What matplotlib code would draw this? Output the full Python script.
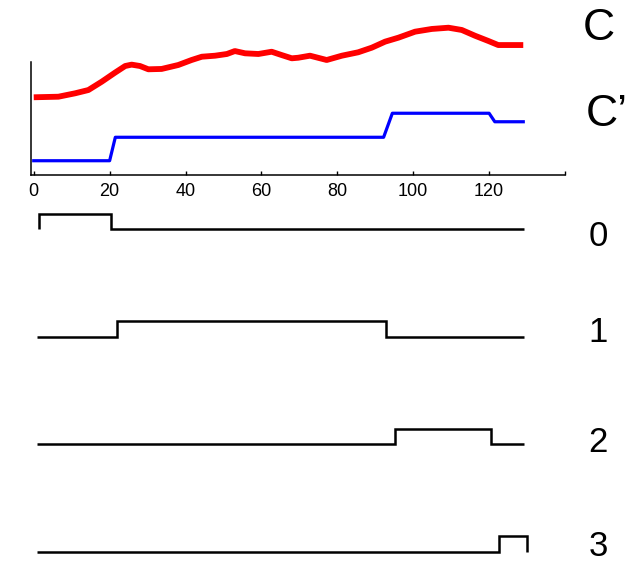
import numpy as np
import matplotlib
matplotlib.use("Agg")
import matplotlib.pyplot as plt

plt.rcParams['font.family'] = ['Liberation Sans', 'DejaVu Sans']

# ---- data ----
# observed sequence C (red)
c_time = [0, 6.5, 10.9, 14.4, 17.9, 21.4, 24.1, 25.8, 28, 30.2, 33.7, 38.1,
          41.6, 44.3, 47.8, 50.9, 53, 55.7, 59.2, 62.7, 65.3, 68, 69.7, 72.8,
          77.2, 81.2, 85.5, 89.1, 92.6, 96.1, 100.5, 104.9, 109.3, 112.8,
          116.3, 119.8, 122.4, 125.9, 129]
c_value = [6.86, 6.91, 7.21, 7.50, 8.23, 9.03, 9.62, 9.74, 9.62, 9.33, 9.36,
           9.71, 10.15, 10.44, 10.53, 10.68, 10.94, 10.74, 10.68, 10.88, 10.59,
           10.30, 10.35, 10.53, 10.15, 10.53, 10.83, 11.24, 11.77, 12.12, 12.65,
           12.89, 13.00, 12.80, 12.29, 11.83, 11.47, 11.47, 11.47]

# piecewise-constant approximation C' (blue)
cp_time = [0, 20, 21.5, 92.2, 94.5, 120, 121.5, 129]
cp_value = [1.26, 1.26, 3.33, 3.33, 5.45, 5.45, 4.70, 4.70]

# state indicator rows: (on start, on end), full span of each row
row_labels = ['0', '1', '2', '3']
row_on = [(1.5, 20.4), (22.0, 92.8), (95.3, 120.5), (122.7, 130.0)]
row_span = [(1.5, 129.3), (0.9, 129.3), (0.9, 129.3), (0.9, 130.0)]

x_ticks = [0, 20, 40, 60, 80, 100, 120, 140]
x_ticklabels = ['0', '20', '40', '60', '80', '100', '120', '']

# ---- figure ----
W, H = 638, 567
fig = plt.figure(figsize=(W / 100, H / 100), dpi=100)

left_px, right_px = 30.7, 565.0
ax = fig.add_axes([left_px / W, (H - 175) / H, (right_px - left_px) / W, (175 - 61.7) / H])
ax.plot(c_time, c_value, color='#ff0000', lw=4.2, clip_on=False,
        solid_joinstyle='round', solid_capstyle='butt')
ax.plot(cp_time, cp_value, color='#0000ff', lw=2.3, clip_on=False)
ax.set_xlim(-0.8, 140)
ax.set_ylim(0, 10)
for s in ['top', 'right']:
    ax.spines[s].set_visible(False)
for s in ['left', 'bottom']:
    ax.spines[s].set_linewidth(1.1)
ax.set_yticks([])
ax.set_xticks(x_ticks)
ax.set_xticklabels(x_ticklabels)
ax.tick_params(axis='x', direction='in', length=3, width=1, labelsize=13, pad=6)

# bottom: state indicator rows
p = 15.3  # pixels per unit
gap = 7.03
axb = fig.add_axes([left_px / W, 0, (right_px - left_px) / W, (567 - 200) / H])
axb.set_xlim(-0.8, 140)
axb.set_ylim(-(567 - 229) / p, (229 - 200) / p)
axb.axis('off')
for i, ((a, b), (s0, s1)) in enumerate(zip(row_on, row_span)):
    base = -i * gap
    edges, vals = [], []
    if a > s0:
        edges += [s0, a]
        vals += [0]
    else:
        edges += [a]
    edges += [b]
    vals += [1]
    if s1 > b:
        edges += [s1]
        vals += [0]
    axb.stairs(np.array(vals) + base, edges, baseline=base, color='black',
               lw=1.8, clip_on=False)

# right-hand labels
fig.text(599 / W, 1 - 28.3 / H, 'C', fontsize=32, ha='center', va='center')
fig.text(586 / W, 1 - 115 / H, 'C\u2019', fontsize=32, ha='left', va='center')
label_y = [236.5, 332.5, 442.5, 547.0]
for lab, yy in zip(row_labels, label_y):
    fig.text(598 / W, 1 - yy / H, lab, fontsize=25, ha='center', va='center')

fig.savefig('out.png', dpi=100)
